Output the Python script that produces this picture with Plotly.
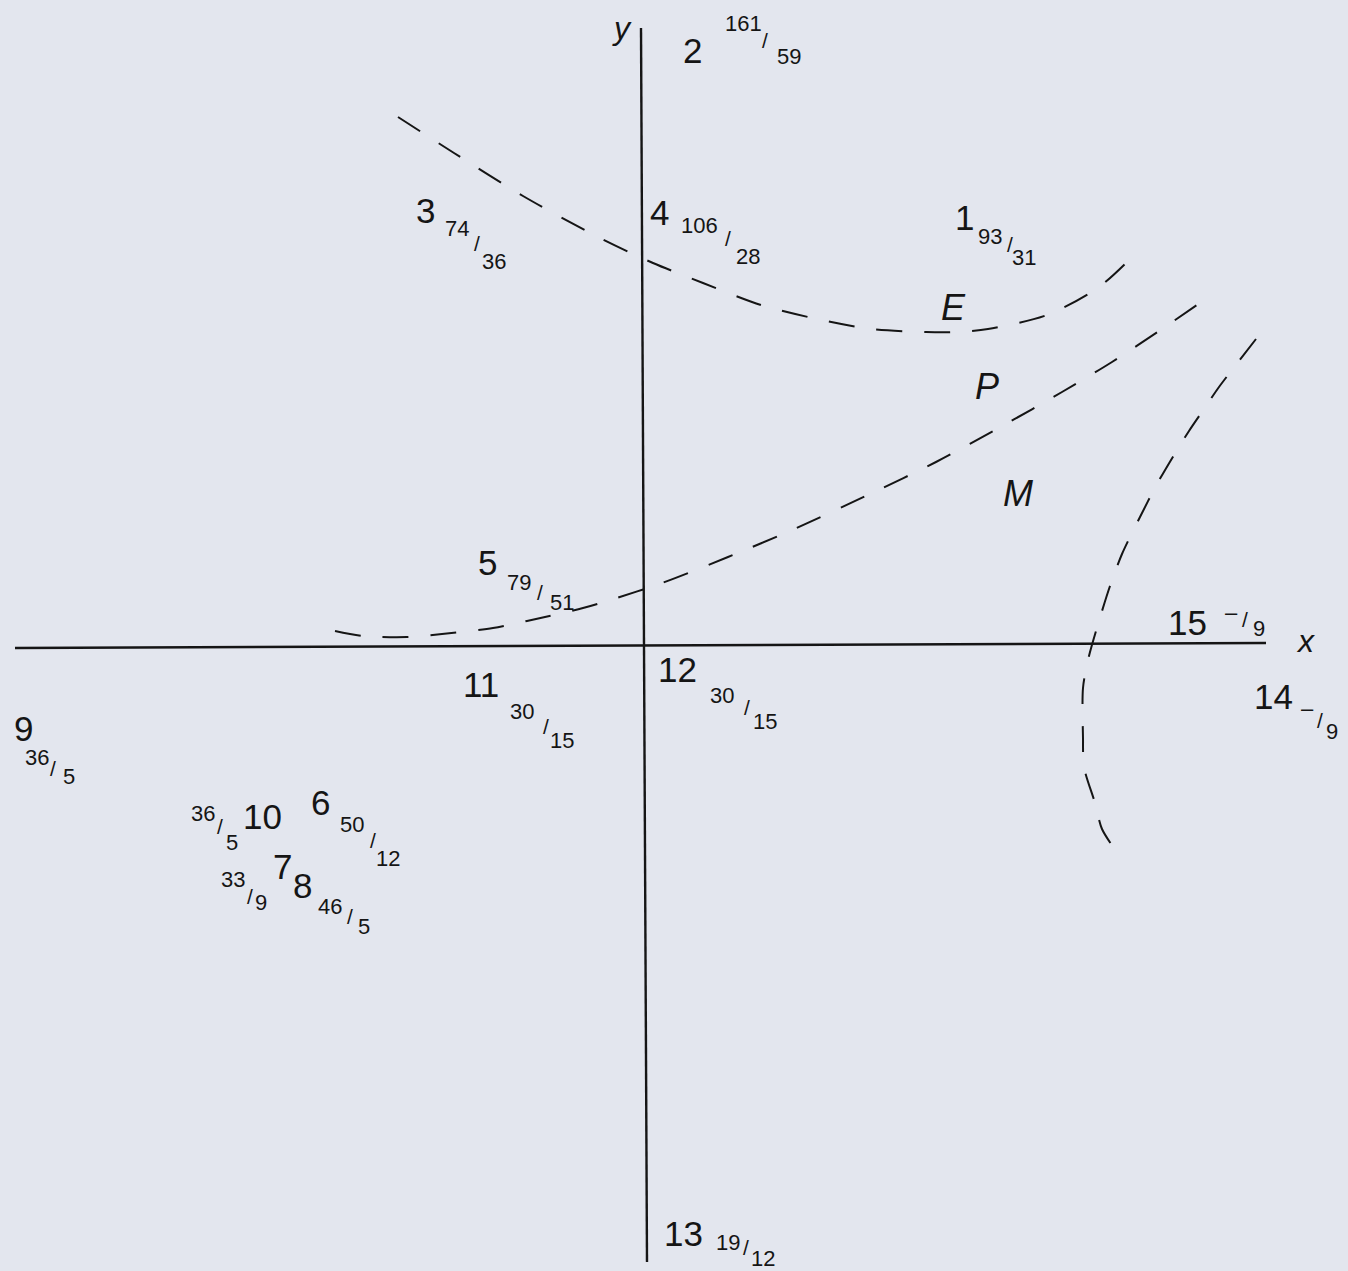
import plotly.graph_objects as go

# ---------------- data (chart units; origin at axes crossing) ----------------
point_ids = ["1", "2", "3", "4", "5", "6", "7", "8", "9", "10", "11", "12", "13", "14", "15"]
point_x = [3.20, 0.48, -2.19, 0.15, -1.57, -3.24, -3.62, -3.42, -6.21, -3.82, -1.63, 0.33, 0.39, 6.29, 5.43]
point_y = [4.28, 5.95, 4.35, 4.33, 0.83, -1.57, -2.21, -2.40, -0.83, -1.71, -0.39, -0.24, -5.88, -0.51, 0.23]
numerators = ["93", "161", "74", "106", "79", "50", "33", "46", "36", "36", "30", "30", "19", "–", "–"]
denominators = ["31", "59", "36", "28", "51", "12", "9", "5", "5", "5", "15", "15", "12", "9", "9"]

curve_E_x = [-2.46, -1.90, -1.21, -0.46, 0.09, 0.59, 1.17, 1.73, 2.27, 2.82, 3.13, 3.44, 4.03, 4.55, 4.93]
curve_E_y = [5.28, 4.92, 4.49, 4.08, 3.82, 3.62, 3.40, 3.26, 3.16, 3.13, 3.13, 3.16, 3.30, 3.58, 3.93]

curve_P_x = [-3.09, -2.81, -2.37, -2.02, -1.51, -1.17, -0.61, -0.37, 0.18, 0.84, 1.48, 2.28, 2.92, 3.60, 4.18, 4.68, 5.18, 5.66]
curve_P_y = [0.14, 0.09, 0.08, 0.11, 0.17, 0.24, 0.37, 0.44, 0.62, 0.88, 1.15, 1.52, 1.83, 2.20, 2.53, 2.83, 3.16, 3.49]

curve_M_x = [6.12, 5.95, 5.75, 5.60, 5.45, 5.30, 5.13, 4.96, 4.78, 4.66, 4.55, 4.44, 4.39, 4.39, 4.40, 4.51, 4.58, 4.72]
curve_M_y = [3.06, 2.84, 2.58, 2.36, 2.14, 1.90, 1.61, 1.28, 0.91, 0.59, 0.24, -0.15, -0.43, -0.93, -1.22, -1.58, -1.84, -2.06]

curve_labels = ["E", "P", "M"]
curve_label_x = [3.09, 3.43, 3.74]
curve_label_y = [3.38, 2.59, 1.52]

x_axis_x = [-6.29, 6.22]
x_axis_y = [-0.03, 0.02]
y_axis_x = [-0.03, 0.03]
y_axis_y = [6.17, -6.17]
axis_names = ["x", "y"]
axis_name_x = [6.61, -0.22]
axis_name_y = [0.04, 6.17]

# ---------------- layout constants (pixel offsets of fraction parts) ----------------
num_off = [(26, 19), (51, -27), (32, 18), (40, 13), (32, 20), (32, 22), (-49, 13), (28, 21),
           (14, 29), (-59, -3), (41, 27), (45, 26), (45, 9), (34, 12), (44, -10)]
slash_off = [(46, 27), (73, -10), (52, 33), (69, 26), (53, 30), (53, 38), (-32, 30), (48, 31),
             (30, 40), (-42, 10), (65, 42), (70, 38), (63, 14), (47, 24), (58, -3)]
den_off = [(60, 40), (97, 6), (69, 51), (89, 44), (75, 40), (68, 56), (-21, 36), (62, 41),
           (46, 48), (-30, 26), (81, 56), (88, 52), (80, 25), (59, 35), (72, 6)]

BG = "#e3e6ee"
INK = "#151515"
FONT = "Liberation Sans, DejaVu Sans, sans-serif"

fig = go.Figure()

axis_line = dict(color=INK, width=2.4)
fig.add_trace(go.Scatter(x=x_axis_x, y=x_axis_y, mode="lines", line=axis_line, hoverinfo="skip"))
fig.add_trace(go.Scatter(x=y_axis_x, y=y_axis_y, mode="lines", line=axis_line, hoverinfo="skip"))

dash_line = dict(color=INK, width=2, dash="26px,22px", shape="spline", smoothing=0.8)
for cx, cy in [(curve_E_x, curve_E_y), (curve_P_x, curve_P_y), (curve_M_x, curve_M_y)]:
    fig.add_trace(go.Scatter(x=cx, y=cy, mode="lines", line=dash_line, hoverinfo="skip"))

ann = []
for i, pid in enumerate(point_ids):
    ann.append(dict(x=point_x[i], y=point_y[i], text=pid, showarrow=False,
                    xanchor="center", yanchor="middle",
                    font=dict(family=FONT, size=35, color=INK)))
    for txt, off, sz in [(numerators[i], num_off[i], 22), ("/", slash_off[i], 21),
                         (denominators[i], den_off[i], 22)]:
        ann.append(dict(x=point_x[i], y=point_y[i], text=txt, showarrow=False,
                        xanchor="center", yanchor="middle",
                        xshift=off[0], yshift=-off[1],
                        font=dict(family=FONT, size=sz, color=INK)))

for i, lab in enumerate(curve_labels):
    ann.append(dict(x=curve_label_x[i], y=curve_label_y[i], text=f"<i>{lab}</i>", showarrow=False,
                    xanchor="center", yanchor="middle",
                    font=dict(family=FONT, size=36, color=INK)))

for i, lab in enumerate(axis_names):
    ann.append(dict(x=axis_name_x[i], y=axis_name_y[i], text=f"<i>{lab}</i>", showarrow=False,
                    xanchor="center", yanchor="middle",
                    font=dict(family=FONT, size=32, color=INK)))

fig.update_layout(
    width=1348, height=1271, autosize=False,
    margin=dict(l=0, r=0, t=0, b=0, pad=0),
    paper_bgcolor=BG, plot_bgcolor=BG,
    showlegend=False,
    xaxis=dict(range=[-6.44, 7.04], visible=False, fixedrange=True),
    yaxis=dict(range=[-6.26, 6.45], visible=False, fixedrange=True),
    annotations=ann,
)

fig.write_html("out.html", config={"displayModeBar": False},
               post_script="document.body.style.margin='0';document.body.style.background='" + BG + "';")
